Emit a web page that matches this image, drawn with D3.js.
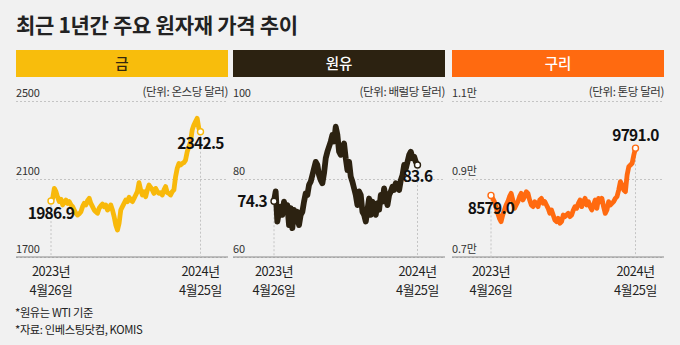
<!DOCTYPE html>
<html><head><meta charset="utf-8">
<script src="https://cdn.jsdelivr.net/npm/d3@7"></script>
<style>
html,body{margin:0;padding:0;background:#f1f1f1;}
svg{display:block;}
text{font-family:"Noto Sans CJK KR","Noto Sans",sans-serif;}
</style></head>
<body>
<svg id="chart" width="680" height="345"></svg>
<script>
// ---- data ----
const title = "최근 1년간 주요 원자재 가격 추이";
const panelNames = ["금", "원유", "구리"];
const units = ["(단위: 온스당 달러)", "(단위: 배럴당 달러)", "(단위: 톤당 달러)"];
const startDateLabels = ["2023년", "4월26일"];
const endDateLabels = ["2024년", "4월25일"];
const footnotes = ["*원유는 WTI 기준", "*자료: 인베스팅닷컴, KOMIS"];

const goldTicks = [1700, 2100, 2500];
const goldTickLabels = ["1700", "2100", "2500"];
const crudeTicks = [60, 80, 100];
const crudeTickLabels = ["60", "80", "100"];
const copperTicks = [7000, 9000, 11000];
const copperTickLabels = ["0.7만", "0.9만", "1.1만"];

const goldValues = [1986.9, 2001, 2052, 2035, 2006, 1984, 1996, 1967, 1979, 1992, 1975, 1984, 1967, 1958, 1941, 1924,
  1915, 1921, 1932, 1958, 1975, 1967, 1989, 2001, 1975, 1958, 1941, 1932, 1924, 1950, 1962, 1972, 1958, 1967,
  1941, 1950, 1967, 1941, 1907, 1864, 1838, 1873, 1941, 1958, 1975, 1992, 1984, 2006, 1992, 1984, 2001, 2018,
  2035, 2081, 2044, 2018, 2035, 2009, 2044, 2069, 2057, 2044, 2026, 2052, 2035, 2026, 2030, 2018, 2044, 2061,
  2030, 2026, 2018, 2035, 2044, 2112, 2155, 2180, 2172, 2180, 2184, 2197, 2240, 2266, 2291, 2351, 2377, 2394,
  2411, 2360, 2342.5];
const crudeValues = [74.3, 76.8, 69.1, 71.6, 72.9, 70.8, 74.2, 71.6, 73.3, 68.2, 72.5, 67.4, 72.1, 69.1, 71.6, 68.2,
  70.8, 71.6, 74.2, 76.3, 75.9, 78.5, 79.3, 81.0, 82.7, 84.4, 83.6, 81.0, 79.7, 78.9, 81.5, 85.3, 87.0, 88.3,
  89.6, 91.3, 89.6, 93.4, 91.3, 87.0, 86.2, 87.9, 89.1, 85.3, 82.3, 84.4, 80.6, 79.3, 77.6, 75.9, 73.3, 76.8,
  75.9, 71.6, 70.8, 69.1, 72.1, 75.0, 70.8, 74.2, 72.5, 70.8, 73.8, 72.1, 75.9, 74.2, 77.6, 75.0, 73.3, 75.9,
  76.8, 78.0, 77.2, 78.9, 78.5, 77.2, 79.7, 81.0, 83.6, 82.7, 84.4, 86.2, 87.0, 85.3, 85.7, 84.4, 83.6];
const copperValues = [8579, 8504, 8419, 8291, 8120, 7991, 7906, 8077, 8205, 8333, 8419, 8547, 8632, 8462, 8248, 8333,
  8419, 8547, 8632, 8462, 8547, 8675, 8632, 8462, 8333, 8291, 8419, 8376, 8291, 8462, 8504, 8376, 8419, 8333,
  8248, 8120, 8205, 8077, 7949, 7906, 7991, 7863, 7906, 8077, 8034, 8077, 8120, 8034, 8077, 8205, 8291, 8248,
  8376, 8462, 8291, 8419, 8504, 8333, 8419, 8291, 8205, 8333, 8462, 8248, 8504, 8419, 8504, 8291, 8120, 8205,
  8419, 8333, 8376, 8419, 8504, 8547, 8718, 8932, 8846, 8718, 8675, 9103, 9316, 9359, 9402, 9615, 9791];
const startValueLabels = ["1986.9", "74.3", "8579.0"];
const endValueLabels = ["2342.5", "83.6", "9791.0"];

// ---- layout / style ----
const svg = d3.select("#chart");
const W = 680, H = 345;
svg.append("rect").attr("width", W).attr("height", H).attr("fill", "#f1f1f1");

const panels = [
  {values: goldValues, ticks: goldTicks, tickLabels: goldTickLabels, x0: 16, x1: 228, xs: 51, xe: 200.5,
   color: "#f8b90b", head: "#f8bd0c", headText: "#33270e", lw: 4.8,
   startPos: {anchor: "middle", dx: 0, dy: 18}, endPos: {anchor: "middle", dx: 0, dy: 17}},
  {values: crudeValues, ticks: crudeTicks, tickLabels: crudeTickLabels, x0: 233, x1: 445, xs: 274, xe: 417.5,
   color: "#2c2211", head: "#2c2211", headText: "#ffffff", lw: 5.8,
   startPos: {anchor: "end", dx: -7, dy: 6}, endPos: {anchor: "middle", dx: 0, dy: 17}},
  {values: copperValues, ticks: copperTicks, tickLabels: copperTickLabels, x0: 452, x1: 664, xs: 491, xe: 635.5,
   color: "#ff6a10", head: "#ff6a10", headText: "#ffffff", lw: 4.8,
   startPos: {anchor: "middle", dx: 0, dy: 19}, endPos: {anchor: "middle", dx: 0, dy: -7}}
];
const yTop = 101, yBot = 257;
const latinFirst = "'Liberation Sans','Noto Sans CJK KR',sans-serif";

// title
svg.append("text").attr("x", 16).attr("y", 33).text(title)
  .attr("font-size", 21).attr("font-weight", 700).attr("fill", "#222").attr("letter-spacing", -0.3);

panels.forEach((p, i) => {
  const g = svg.append("g");
  // header bar
  g.append("rect").attr("x", p.x0).attr("y", 50).attr("width", p.x1 - p.x0).attr("height", 27).attr("fill", p.head);
  g.append("text").attr("x", (p.x0 + p.x1) / 2).attr("y", 68.5).attr("text-anchor", "middle")
    .attr("font-size", 14.5).attr("font-weight", 500).attr("fill", p.headText).text(panelNames[i]);

  const y = d3.scaleLinear().domain([p.ticks[0], p.ticks[p.ticks.length - 1]]).range([yBot, yTop]);
  const x = d3.scaleLinear().domain([0, p.values.length - 1]).range([p.xs, p.xe]);
  const width = p.x1 - p.x0;

  // axis with gridlines
  const ax = g.append("g").attr("transform", `translate(${p.x0},0)`)
    .call(d3.axisRight(y).tickValues(p.ticks).tickSize(width)
      .tickFormat((d, k) => p.tickLabels[k]));
  ax.select(".domain").remove();
  ax.selectAll(".tick line").attr("stroke", "#c4c4c4").attr("stroke-dasharray", "2,2");
  ax.selectAll(".tick text").attr("x", 0).attr("dy", -5).attr("text-anchor", "start")
    .attr("font-size", 11).attr("fill", "#333").attr("font-family", latinFirst)
    .attr("letter-spacing", -0.2);
  // baseline
  g.append("line").attr("x1", p.x0).attr("x2", p.x1).attr("y1", yBot).attr("y2", yBot)
    .attr("stroke", "#8a8a8a").attr("stroke-width", 1);

  // unit label
  g.append("text").attr("x", p.x1).attr("y", 96).attr("text-anchor", "end")
    .attr("font-size", 11.5).attr("fill", "#333").attr("letter-spacing", -0.4).text(units[i]);

  const n = p.values.length;
  // vertical guide lines
  [0, n - 1].forEach(k => {
    g.append("line").attr("x1", x(k)).attr("x2", x(k)).attr("y1", y(p.values[k]) + 4).attr("y2", yBot)
      .attr("stroke", "#c4c4c4").attr("stroke-dasharray", "2,2");
  });

  // line
  g.append("path").datum(p.values)
    .attr("d", d3.line().x((d, k) => x(k)).y(d => y(d)))
    .attr("fill", "none").attr("stroke", p.color).attr("stroke-width", p.lw)
    .attr("stroke-linejoin", "round").attr("stroke-linecap", "round");

  // markers
  [0, n - 1].forEach(k => {
    g.append("circle").attr("cx", x(k)).attr("cy", y(p.values[k])).attr("r", 3)
      .attr("fill", "#fff").attr("stroke", p.color).attr("stroke-width", 1.4);
  });

  // value labels
  const lab = (k, txt, pos) => g.append("text").attr("x", x(k) + pos.dx).attr("y", y(p.values[k]) + pos.dy)
    .attr("text-anchor", pos.anchor).attr("font-size", 15.5).attr("font-weight", 700).attr("fill", "#111")
    .attr("font-family", "'Liberation Sans',sans-serif").attr("letter-spacing", -0.7).text(txt);
  lab(0, startValueLabels[i], p.startPos);
  lab(n - 1, endValueLabels[i], p.endPos);

  // date labels (two lines)
  [[0, startDateLabels], [n - 1, endDateLabels]].forEach(([k, lines]) => {
    lines.forEach((s, j) => {
      g.append("text").attr("x", x(k)).attr("y", 276 + j * 18.7).attr("text-anchor", "middle")
        .attr("font-family", latinFirst)
        .attr("font-size", 12.8).attr("fill", "#222").attr("letter-spacing", -0.4).text(s);
    });
  });
});

footnotes.forEach((s, j) => {
  svg.append("text").attr("x", 15).attr("y", 317 + j * 16.6).attr("font-size", 11.3).attr("fill", "#222")
    .attr("font-family", latinFirst).attr("letter-spacing", -0.4).text(s);
});
</script>
</body></html>
